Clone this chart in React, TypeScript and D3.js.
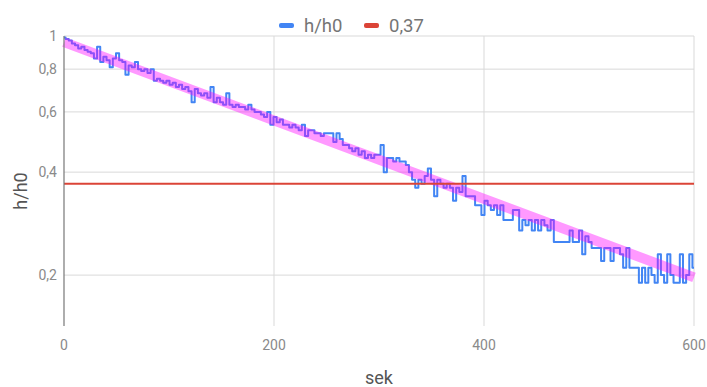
import React, { useEffect, useRef } from "react";
import * as d3 from "d3";

// sampling interval of the measurement, seconds
const SAMPLE_SEC = 3;

// h/h0 readings, one every 3 s from 0 to 600 s
const hh0 = [
  0.99, 0.98, 0.97, 0.95, 0.94, 0.92, 0.93, 0.91, 0.9, 0.89,
  0.86, 0.93, 0.84, 0.87, 0.85, 0.81, 0.86, 0.89, 0.85, 0.84,
  0.77, 0.82, 0.81, 0.84, 0.8, 0.79, 0.8, 0.78, 0.8, 0.74,
  0.75, 0.74, 0.73, 0.74, 0.72, 0.73, 0.71, 0.72, 0.7, 0.71,
  0.69, 0.64, 0.7, 0.68, 0.67, 0.68, 0.66, 0.71, 0.64, 0.66,
  0.64, 0.63, 0.68, 0.63, 0.62, 0.63, 0.62, 0.62, 0.61, 0.63,
  0.61, 0.6, 0.6, 0.59, 0.58, 0.6, 0.55, 0.58, 0.56, 0.57,
  0.55, 0.55, 0.54, 0.55, 0.54, 0.53, 0.55, 0.51, 0.53, 0.53,
  0.52, 0.52, 0.51, 0.52, 0.52, 0.52, 0.49, 0.52, 0.5, 0.48,
  0.48, 0.47, 0.46, 0.47, 0.45, 0.46, 0.44, 0.45, 0.44, 0.45,
  0.45, 0.48, 0.4, 0.44, 0.44, 0.43, 0.44, 0.43, 0.43, 0.42,
  0.4, 0.38, 0.36, 0.38, 0.37, 0.39, 0.41, 0.38, 0.34, 0.38,
  0.37, 0.36, 0.37, 0.36, 0.33, 0.36, 0.35, 0.39, 0.34, 0.34,
  0.34, 0.32, 0.32, 0.3, 0.33, 0.32, 0.31, 0.32, 0.3, 0.32,
  0.29, 0.29, 0.29, 0.31, 0.31, 0.27, 0.29, 0.28, 0.29, 0.27,
  0.29, 0.27, 0.29, 0.28, 0.27, 0.29, 0.25, 0.25, 0.25, 0.25,
  0.25, 0.27, 0.25, 0.25, 0.27, 0.23, 0.26, 0.25, 0.24, 0.24,
  0.24, 0.22, 0.24, 0.24, 0.22, 0.24, 0.24, 0.23, 0.21, 0.24,
  0.21, 0.21, 0.21, 0.19, 0.21, 0.19, 0.21, 0.2, 0.19, 0.23,
  0.2, 0.19, 0.23, 0.2, 0.19, 0.19, 0.23, 0.19, 0.2, 0.23,
  0.21,
];

// exponential trend line (straight on the log axis)
const trendSek = [0, 600];
const trendHh0 = [0.96, 0.197];

const threshold = 0.37;

const xTicks = [0, 200, 400, 600];
const yTicks = [1, 0.8, 0.6, 0.4, 0.2];

const App = () => {
  const svgRef = useRef<SVGSVGElement | null>(null);

  useEffect(() => {
    const svg = d3.select(svgRef.current);
    svg.selectAll("*").remove();

    const width = 707;
    const height = 387;
    const font = "Roboto, 'Noto Sans', Arial, sans-serif";

    const x = d3.scaleLinear().domain([0, 600]).range([64, 694]);
    const y = d3.scaleLog().domain([0.142, 1]).range([326, 36]);
    const fmt = (v: number) => String(v).replace(".", ",");

    svg.attr("width", width).attr("height", height);
    svg.append("rect").attr("width", width).attr("height", height).attr("fill", "white");

    // horizontal grid
    svg
      .append("g")
      .selectAll("line")
      .data(yTicks)
      .join("line")
      .attr("x1", x(0))
      .attr("x2", x(600))
      .attr("y1", (d) => y(d))
      .attr("y2", (d) => y(d))
      .attr("stroke", "#d9d9d9")
      .attr("stroke-width", 1);

    // vertical grid
    svg
      .append("g")
      .selectAll("line")
      .data(xTicks.slice(1))
      .join("line")
      .attr("x1", (d) => x(d))
      .attr("x2", (d) => x(d))
      .attr("y1", y(1))
      .attr("y2", y(0.142))
      .attr("stroke", "#d9d9d9")
      .attr("stroke-width", 1);

    // tick labels
    svg
      .append("g")
      .selectAll("text")
      .data(yTicks)
      .join("text")
      .attr("x", 57)
      .attr("y", (d) => y(d) + 5)
      .attr("text-anchor", "end")
      .attr("font-family", font)
      .attr("font-size", 14)
      .attr("fill", "#8a8a8a")
      .text((d) => fmt(d));

    svg
      .append("g")
      .selectAll("text")
      .data(xTicks)
      .join("text")
      .attr("x", (d) => x(d))
      .attr("y", 350)
      .attr("text-anchor", "middle")
      .attr("font-family", font)
      .attr("font-size", 14)
      .attr("fill", "#8a8a8a")
      .text((d) => d);

    // measured series
    const line = d3
      .line<number>()
      .x((d, i) => x(i * SAMPLE_SEC))
      .y((d) => y(d))
      .curve(d3.curveStep);

    svg
      .append("path")
      .datum(hh0)
      .attr("d", line)
      .attr("fill", "none")
      .attr("stroke", "#4285f4")
      .attr("stroke-width", 2)
      .attr("stroke-linejoin", "round");

    // trend
    svg
      .append("path")
      .datum(d3.range(trendSek.length))
      .attr(
        "d",
        d3
          .line<number>()
          .x((i) => x(trendSek[i]))
          .y((i) => y(trendHh0[i]))
      )
      .attr("fill", "none")
      .attr("stroke", "#ff00ff")
      .attr("stroke-opacity", 0.4)
      .attr("stroke-width", 10);

    // 0,37 line
    svg
      .append("line")
      .attr("x1", x(0))
      .attr("x2", x(600))
      .attr("y1", y(threshold))
      .attr("y2", y(threshold))
      .attr("stroke", "#db4437")
      .attr("stroke-width", 2);

    // left axis line
    svg
      .append("line")
      .attr("x1", x(0))
      .attr("x2", x(0))
      .attr("y1", y(1))
      .attr("y2", y(0.142))
      .attr("stroke", "#777")
      .attr("stroke-width", 1.2);

    // axis titles
    svg
      .append("text")
      .attr("x", 379)
      .attr("y", 384)
      .attr("text-anchor", "middle")
      .attr("font-family", font)
      .attr("font-size", 18)
      .attr("fill", "#555")
      .text("sek");

    svg
      .append("text")
      .attr("transform", "translate(27,191) rotate(-90)")
      .attr("text-anchor", "middle")
      .attr("font-family", font)
      .attr("font-size", 18)
      .attr("fill", "#555")
      .text("h/h0");

    // legend
    const legend = [
      { label: "h/h0", color: "#4285f4", x: 279 },
      { label: "0,37", color: "#db4437", x: 364 },
    ];
    const lg = svg.append("g").selectAll("g").data(legend).join("g");
    lg.append("rect")
      .attr("x", (d) => d.x)
      .attr("y", 23)
      .attr("width", 15)
      .attr("height", 5)
      .attr("rx", 2)
      .attr("fill", (d) => d.color);
    lg.append("text")
      .attr("x", (d) => d.x + 25)
      .attr("y", 32)
      .attr("font-family", font)
      .attr("font-size", 18.5)
      .attr("fill", "#757575")
      .text((d) => d.label);
  }, []);

  return (
    <svg
      ref={svgRef}
      style={{ position: "absolute", left: 0, top: 0, display: "block" }}
    ></svg>
  );
};

export default App;
